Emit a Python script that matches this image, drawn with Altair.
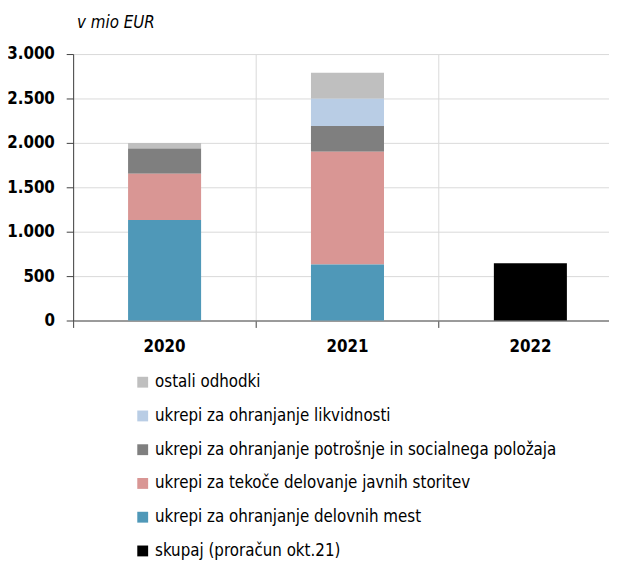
import altair as alt
import pandas as pd

years = ["2020", "2021", "2022"]
categories = [
    "ostali odhodki",
    "ukrepi za ohranjanje likvidnosti",
    "ukrepi za ohranjanje potrošnje in socialnega položaja",
    "ukrepi za tekoče delovanje javnih storitev",
    "ukrepi za ohranjanje delovnih mest",
    "skupaj (proračun okt.21)",
]
colors = ["#bfbfbf", "#b9cde5", "#7f7f7f", "#d99694", "#4f98b8", "#000000"]
stack_rank = [4, 3, 2, 1, 0, 5]

ostali = [63, 293, 0]
likvidnost = [0, 307, 0]
potrosnja = [285, 289, 0]
javne = [519, 1270, 0]
delovna = [1133, 630, 0]
skupaj = [0, 0, 644]
series = [ostali, likvidnost, potrosnja, javne, delovna, skupaj]

rows = []
for cat, rank, vals in zip(categories, stack_rank, series):
    for yr, v in zip(years, vals):
        if v > 0:
            rows.append({"leto": yr, "serija": cat, "vrednost": v, "red": rank})
df = pd.DataFrame(rows)

FONT = "DejaVu Sans Condensed, DejaVu Sans, sans-serif"

bars = alt.Chart(df).mark_bar(size=74).encode(
    x=alt.X(
        "leto:N",
        sort=years,
        scale=alt.Scale(range=[0, 556], paddingInner=0, paddingOuter=0),
        axis=alt.Axis(
            title=None, labelAngle=0, bandPosition=0, grid=True,
            gridColor="#d9d9d9", gridWidth=1,
            domainColor="#7f7f7f", domainWidth=1.5,
            tickColor="#404040", tickSize=7,
            labelFont=FONT, labelFontSize=17, labelFontWeight="bold",
            labelColor="#000000", labelPadding=11,
        ),
    ),
    y=alt.Y(
        "vrednost:Q",
        stack="zero",
        scale=alt.Scale(domain=[0, 3000], nice=False),
        axis=alt.Axis(
            title=None, values=[0, 500, 1000, 1500, 2000, 2500, 3000],
            labelExpr="replace(format(datum.value, ','), ',', '.')",
            grid=True, gridColor="#d9d9d9", gridWidth=1,
            domainColor="#404040", domainWidth=1,
            tickColor="#404040", tickSize=7,
            labelFont=FONT, labelFontSize=17, labelFontWeight="bold",
            labelColor="#000000", labelPadding=12,
        ),
    ),
    color=alt.Color(
        "serija:N",
        scale=alt.Scale(domain=categories, range=colors),
        legend=alt.Legend(
            title=None, orient="none", legendX=62, legendY=324,
            direction="vertical", symbolType="square", symbolSize=121,
            symbolStrokeWidth=0, labelFont=FONT, labelFontSize=17,
            labelColor="#000000", labelOffset=4, rowPadding=16.2,
            labelLimit=600,
        ),
    ),
    order=alt.Order("red:Q", sort="ascending"),
)

title_df = pd.DataFrame({"t": ["v mio EUR"]})
title_text = alt.Chart(title_df).mark_text(
    align="left", baseline="middle", fontStyle="italic", fontSize=17,
    font=FONT, color="#000000",
).encode(x=alt.value(4), y=alt.value(-31), text="t:N")

chart = alt.layer(bars, title_text).properties(
    width=543,
    height=270,
    padding={"left": 66, "top": 43, "right": 0, "bottom": 240},
    autosize=alt.AutoSizeParams(type="none"),
).configure_view(stroke=None)

chart.save("out.html", embed_options={"renderer": "svg", "actions": False})
